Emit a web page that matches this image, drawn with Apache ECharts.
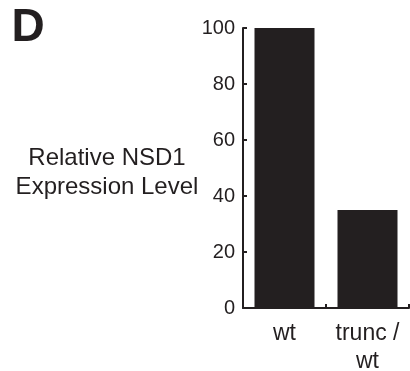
<!DOCTYPE html>
<html>
<head>
<meta charset="utf-8">
<script src="https://cdn.jsdelivr.net/npm/echarts@6/dist/echarts.min.js"></script>
<style>html,body{margin:0;padding:0;background:#fff}#c{width:410px;height:371px}</style>
</head>
<body>
<div id="c"></div>
<script>
const categories = ['wt', 'trunc /\nwt'];
const values = [100, 35];
const yTicks = [0, 20, 40, 60, 80, 100];
const panelLabel = 'D';
const yName = 'Relative NSD1\nExpression Level';

const ink = '#231f20';
const font = '"Liberation Sans", Arial, Helvetica, sans-serif';
const chart = echarts.init(document.getElementById('c'), null, {renderer: 'canvas'});
chart.setOption({
  animation: false,
  grid: {left: 243, right: 1, top: 28, bottom: 63, containLabel: false, outerBoundsMode: 'none'},
  xAxis: {
    type: 'category',
    data: categories,
    axisLine: {lineStyle: {color: ink, width: 2}},
    axisTick: {show: true, inside: true, length: 4, lineStyle: {color: ink, width: 2}},
    axisLabel: {color: ink, fontFamily: font, fontSize: 23, lineHeight: 28, margin: 12, interval: 0, hideOverlap: false}
  },
  yAxis: {
    type: 'value',
    min: yTicks[0], max: yTicks[yTicks.length - 1], interval: 20,
    splitLine: {show: false},
    axisLine: {show: true, lineStyle: {color: ink, width: 2}},
    axisTick: {show: true, inside: true, length: 4, lineStyle: {color: ink, width: 2}},
    axisLabel: {color: ink, fontFamily: font, fontSize: 20, margin: 8}
  },
  series: [{
    type: 'bar',
    data: values,
    barWidth: 60,
    itemStyle: {color: ink}
  }],
  graphic: [
    {type: 'text', x: 28, y: 28, style: {text: panelLabel, fill: ink, font: 'bold 46px ' + font, textAlign: 'center', textVerticalAlign: 'middle'}},
    {type: 'text', x: 107, y: 173, style: {text: yName, fill: ink, font: '24px ' + font, lineHeight: 29, textAlign: 'center', textVerticalAlign: 'middle'}}
  ]
});
</script>
</body>
</html>
